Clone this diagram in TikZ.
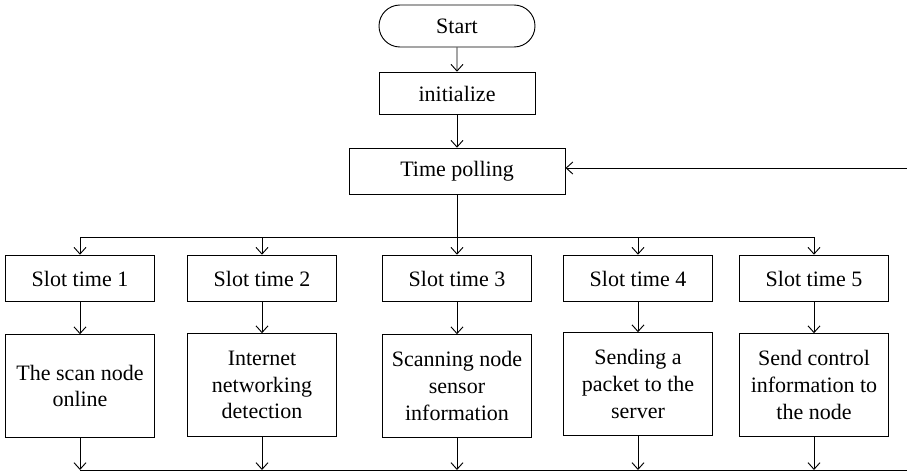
\documentclass[tikz,border=0pt]{standalone}
\usepackage{fontspec}
\setmainfont{Liberation Serif}
\usetikzlibrary{arrows.meta, shapes.misc}

\begin{document}
\begin{tikzpicture}[x=0.75pt, y=-0.75pt, line width=0.7pt]
\useasboundingbox (0, 0) rectangle (907, 472);

\begin{scope}[every node/.style={rectangle,draw,align=center,inner sep=0pt,
                                 font=\fontsize{16.5}{20}\selectfont}]
    \node (start) at (457, 26) [rounded rectangle, minimum width=117pt, minimum height=31.5pt] {Start};
    \node (init) at (457, 93.5) [minimum width=117pt, minimum height=32pt] {initialize};
    \node (poll) at (457, 171.5) [minimum width=162pt, minimum height=35pt] {Time polling};

    \begin{scope}[every node/.append style={minimum width=112pt, minimum height=35pt}]
        \node (slot1) at (80, 278.5) {Slot time 1};
        \node (slot2) at (262, 278.5) {Slot time 2};
        \node (slot3) at (457, 278.5) {Slot time 3};
        \node (slot4) at (638, 278.5) {Slot time 4};
        \node (slot5) at (814, 278.5) {Slot time 5};
    \end{scope}

    \begin{scope}[every node/.append style={minimum width=112pt, minimum height=77pt}]
        \node (task1) at (80, 386) {The scan node\\online};
        \node (task2) at (262, 385) {Internet\\networking\\detection};
        \node (task3) at (457, 386) {Scanning node\\sensor\\information};
        \node (task4) at (638, 384) {Sending a\\packet to the\\server};
        \node (task5) at (814, 385) {Send control\\information to\\the node};
    \end{scope}
\end{scope}

% branch and merge points
\coordinate (split) at (457, 237);
\coordinate (d1) at (80, 237);
\coordinate (d2) at (262, 237);
\coordinate (d4) at (638, 237);
\coordinate (d5) at (814, 237);
\coordinate (m1) at (80, 470);
\coordinate (m2) at (262, 470);
\coordinate (m3) at (457, 470);
\coordinate (m4) at (638, 470);
\coordinate (m5) at (814, 470);
\coordinate (mend) at (907, 470);
\coordinate (back) at (907, 168);

\begin{scope}[>={Straight Barb[length=5pt,width=9pt]},
              every edge/.style={draw,line width=0.7pt}]
    \path [->] (start) edge node {} (init);
    \path [->] (init) edge node {} (poll);
    \path [->] (back) edge node {} (back -| poll.east);

    \path [-] (poll) edge node {} (split);
    \path [-] (d1) edge node {} (d5);
    \path [->] (d1) edge node {} (slot1);
    \path [->] (d2) edge node {} (slot2);
    \path [->] (split) edge node {} (slot3);
    \path [->] (d4) edge node {} (slot4);
    \path [->] (d5) edge node {} (slot5);

    \path [->] (slot1) edge node {} (task1);
    \path [->] (slot2) edge node {} (task2);
    \path [->] (slot3) edge node {} (task3);
    \path [->] (slot4) edge node {} (task4);
    \path [->] (slot5) edge node {} (task5);

    \path [->] (task1) edge node {} (m1);
    \path [->] (task2) edge node {} (m2);
    \path [->] (task3) edge node {} (m3);
    \path [->] (task4) edge node {} (m4);
    \path [->] (task5) edge node {} (m5);
    \path [-] (m1) edge node {} (mend);
\end{scope}
\end{tikzpicture}
\end{document}
